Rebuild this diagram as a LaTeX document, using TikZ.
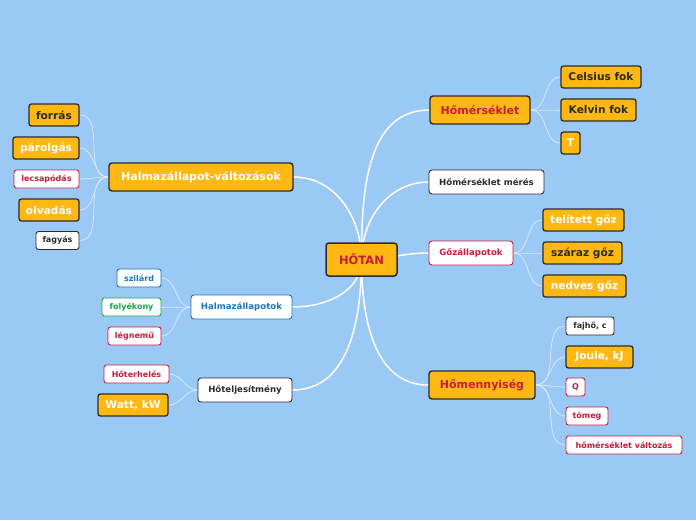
\documentclass[tikz,border=0pt]{standalone}
\usepackage{fontspec}
\setmainfont{DejaVu Sans}
\usepackage{xcolor}
\usetikzlibrary{backgrounds}
\definecolor{mapbg}{RGB}{155,201,245}
\definecolor{mapgold}{RGB}{253,184,20}
\definecolor{mapred}{RGB}{200,28,60}
\definecolor{mapblue}{RGB}{27,117,187}
\definecolor{mapgreen}{RGB}{18,168,75}
\definecolor{boxline}{RGB}{43,43,43}
\tikzset{
  central/.style={draw=boxline, line width=1.5pt, fill=mapgold, rounded corners=3pt, text=mapred, minimum height=33pt, inner sep=0pt, font=\bfseries\fontsize{11.5}{13}\selectfont},
  goldtopic/.style={draw=boxline, line width=1.4pt, fill=mapgold, rounded corners=3pt, text=#1, minimum height=28pt, inner sep=0pt, font=\bfseries\fontsize{11}{13}\selectfont},
  whitetopic/.style={draw=#1, line width=0.9pt, fill=white, rounded corners=3pt, text=#1, minimum height=24pt, inner sep=0pt, font=\bfseries\fontsize{8.6}{10}\selectfont},
  goldleaf/.style={draw=boxline, line width=1.3pt, fill=mapgold, rounded corners=2.5pt, text=#1, minimum height=22pt, inner sep=0pt, font=\bfseries\fontsize{10.6}{12}\selectfont},
  whiteleaf/.style={draw=#1, line width=0.9pt, fill=white, rounded corners=2.5pt, text=#1, minimum height=18pt, inner sep=0pt, font=\bfseries\fontsize{8}{9}\selectfont},
  mainlink/.style={white, line width=1.5pt},
  sublink/.style={white!65!mapbg, line width=0.7pt}
}
\begin{document}
\begin{tikzpicture}[x=1pt, y=-1pt]
    \useasboundingbox (0,0) rectangle (696,520);
    % centre
    \node[central, minimum width=71pt] (hotan) at (361.5,259.5) {HŐTAN};
    % right side
    \node[goldtopic=mapred, minimum width=100pt] (homerseklet) at (480,110) {Hőmérséklet};
    \node[goldleaf=boxline, minimum width=80pt] (celsius) at (601,77) {Celsius fok};
    \node[goldleaf=boxline, minimum width=75pt] (kelvin) at (598.5,110) {Kelvin fok};
    \node[goldleaf=white, minimum width=19pt] (tjel) at (570.5,143) {T};
    \node[whitetopic=boxline, minimum width=115pt] (meres) at (486.5,182) {Hőmérséklet mérés};
    \node[whitetopic=mapred, minimum width=84pt] (gozall) at (471,253) {Gőzállapotok};
    \node[goldleaf=white, minimum width=81pt] (telitett) at (583.5,220) {telített gőz};
    \node[goldleaf=boxline, minimum width=79pt] (szaraz) at (582.5,253) {száraz gőz};
    \node[goldleaf=white, minimum width=83pt] (nedves) at (584.5,286) {nedves gőz};
    \node[goldtopic=mapred, minimum width=106pt] (homenny) at (482,385) {Hőmennyiség};
    \node[whiteleaf=boxline, minimum width=48pt] (fajho) at (590,326) {fajhő, c};
    \node[goldleaf=white, minimum width=67pt] (joule) at (599.5,357) {Joule, kJ};
    \node[whiteleaf=mapred, minimum width=19pt] (qjel) at (575.5,387) {Q};
    \node[whiteleaf=mapred, minimum width=42pt] (tomeg) at (587,416) {tömeg};
    \node[whiteleaf=mapred, minimum width=116pt] (valtozas) at (624,445) {hőmérséklet változás};
    % left side
    \node[goldtopic=white, minimum width=184pt] (halmvalt) at (201,177) {Halmazállapot-változások};
    \node[goldleaf=boxline, minimum width=50pt] (forras) at (54,115) {forrás};
    \node[goldleaf=white, minimum width=66pt] (parolgas) at (46,148) {párolgás};
    \node[whiteleaf=mapred, minimum width=65pt] (lecsap) at (46.5,179) {lecsapódás};
    \node[goldleaf=white, minimum width=60pt] (olvadas) at (49,210) {olvadás};
    \node[whiteleaf=boxline, minimum width=43pt] (fagyas) at (57.5,240.5) {fagyás};
    \node[whitetopic=mapblue, minimum width=101pt] (halmall) at (241.5,307) {Halmazállapotok};
    \node[whiteleaf=mapblue, minimum width=44pt] (szilard) at (139,278) {szilárd};
    \node[whiteleaf=mapgreen, minimum width=59pt] (folyekony) at (131.5,307) {folyékony};
    \node[whiteleaf=mapred, minimum width=53pt] (legnemu) at (134.5,336) {légnemű};
    \node[whitetopic=boxline, minimum width=94pt] (hotelj) at (245,390) {Hőteljesítmény};
    \node[whiteleaf=mapred, minimum width=65pt] (hoterh) at (136.5,374) {Hőterhelés};
    \node[goldleaf=white, minimum width=70pt] (watt) at (133,405) {Watt, kW};
    \begin{scope}[on background layer]
        \fill[mapbg] (0,0) rectangle (696,520);
        % branches from the centre
        \draw[mainlink] (hotan.center) to[out=90, in=180] (homerseklet.west);
        \draw[mainlink] (hotan.center) to[out=90, in=180] (meres.west);
        \draw[mainlink] (hotan.center) to[out=0, in=180] (gozall.west);
        \draw[mainlink] (hotan.center) to[out=-90, in=180] (homenny.west);
        \draw[mainlink] (hotan.center) to[out=90, in=0] (halmvalt.east);
        \draw[mainlink] (hotan.center) to[out=-90, in=0] (halmall.east);
        \draw[mainlink] (hotan.center) to[out=-90, in=0] (hotelj.east);
        % sub-branches
        \foreach \kid in {celsius, kelvin, tjel}
            \draw[sublink] (homerseklet.east) to[out=0, in=180] (\kid.west);
        \foreach \kid in {telitett, szaraz, nedves}
            \draw[sublink] (gozall.east) to[out=0, in=180] (\kid.west);
        \foreach \kid in {fajho, joule, qjel, tomeg, valtozas}
            \draw[sublink] (homenny.east) to[out=0, in=180] (\kid.west);
        \foreach \kid in {forras, parolgas, lecsap, olvadas, fagyas}
            \draw[sublink] (halmvalt.west) to[out=180, in=0] (\kid.east);
        \foreach \kid in {szilard, folyekony, legnemu}
            \draw[sublink] (halmall.west) to[out=180, in=0] (\kid.east);
        \foreach \kid in {hoterh, watt}
            \draw[sublink] (hotelj.west) to[out=180, in=0] (\kid.east);
    \end{scope}
\end{tikzpicture}
\end{document}
